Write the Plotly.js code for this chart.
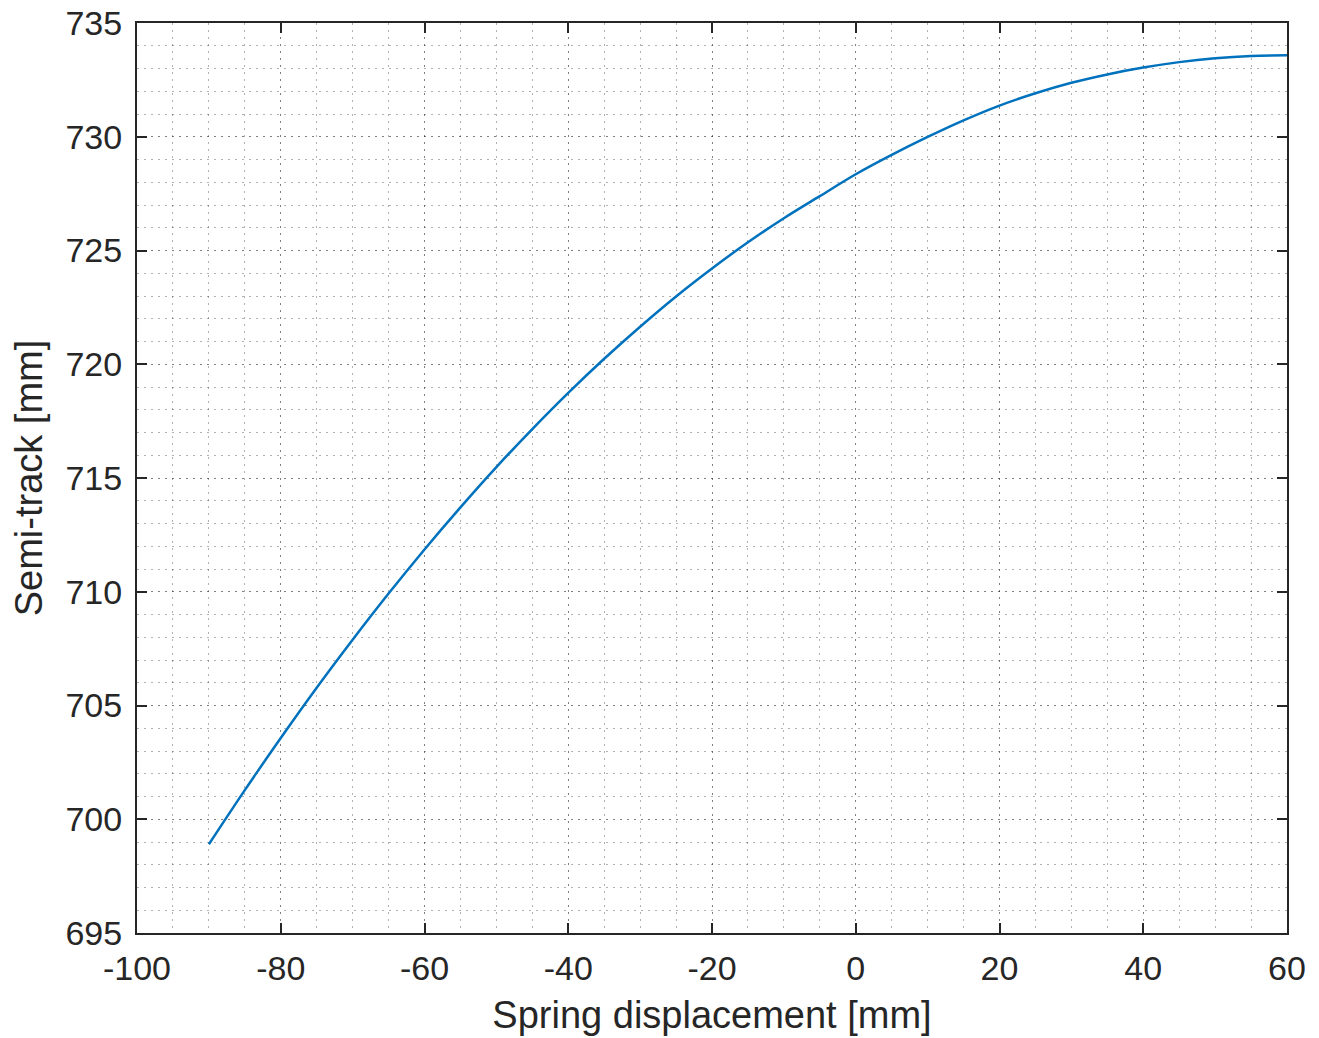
<!DOCTYPE html>
<html>
<head>
<meta charset="utf-8">
<script src="https://cdn.plot.ly/plotly-3.0.1.min.js"></script>
<style>html,body{margin:0;padding:0;background:#fff;}#chart{width:1319px;height:1038px;}</style>
</head>
<body>
<div id="chart"></div>
<script>
// Spring displacement [mm]
const displacement = [-90, -85, -80, -75, -70, -65, -60, -55, -50, -45, -40, -35, -30, -25, -20, -15, -10, -5, 0, 5, 10, 15, 20, 25, 30, 35, 40, 45, 50, 55, 60];
// Semi-track [mm]
const semiTrack = [698.90, 701.28, 703.57, 705.78, 707.89, 709.92, 711.86, 713.71, 715.48, 717.15, 718.74, 720.24, 721.65, 722.98, 724.21, 725.36, 726.42, 727.39, 728.35, 729.20, 729.99, 730.72, 731.37, 731.91, 732.37, 732.74, 733.04, 733.28, 733.45, 733.55, 733.58];

const xTickVals = [-100, -80, -60, -40, -20, 0, 20, 40, 60];
const xTickText = ['-100', '-80', '-60', '-40', '-20', '0', '20', '40', '60'];
const yTickVals = [695, 700, 705, 710, 715, 720, 725, 730, 735];
const yTickText = ['695', '700', '705', '710', '715', '720', '725', '730', '735'];

const dark = '#262626';
const gridCol = 'rgba(38,38,38,0.36)';
const font = 'Liberation Sans, Arial, sans-serif';

const axisCommon = {
  showline: true, linecolor: dark, linewidth: 2, mirror: 'allticks',
  ticks: 'inside', ticklen: 10, tickwidth: 2, tickcolor: dark,
  showgrid: true, gridcolor: gridCol, gridwidth: 1, griddash: '2px,5px',
  zeroline: false, automargin: false,
  tickfont: {family: font, size: 34, color: dark},
  tickmode: 'array'
};

const layout = {
  width: 1319, height: 1038,
  margin: {l: 137, r: 32, t: 23, b: 105},
  paper_bgcolor: '#fff', plot_bgcolor: '#fff',
  showlegend: false,
  xaxis: Object.assign({}, axisCommon, {
    range: [-100, 60], tickvals: xTickVals, ticktext: xTickText,
    ticklabelstandoff: 4,
    minor: {dtick: 5, showgrid: true, gridcolor: gridCol, gridwidth: 1, griddash: '2px,5px', ticks: ''},
    title: {text: 'Spring displacement [mm]', font: {family: font, size: 38, color: dark}, standoff: 16}
  }),
  yaxis: Object.assign({}, axisCommon, {
    range: [695, 735], tickvals: yTickVals, ticktext: yTickText,
    ticklabelstandoff: 6,
    minor: {dtick: 1, showgrid: true, gridcolor: gridCol, gridwidth: 1, griddash: '2px,5px', ticks: ''},
    title: {text: 'Semi-track [mm]', font: {family: font, size: 38, color: dark}, standoff: 11}
  })
};

const trace = {
  x: displacement, y: semiTrack, type: 'scatter', mode: 'lines',
  line: {color: '#0072BD', width: 2.5, shape: 'spline', smoothing: 1},
  hoverinfo: 'skip'
};

Plotly.newPlot('chart', [trace], layout, {displayModeBar: false, staticPlot: true});
</script>
</body>
</html>
